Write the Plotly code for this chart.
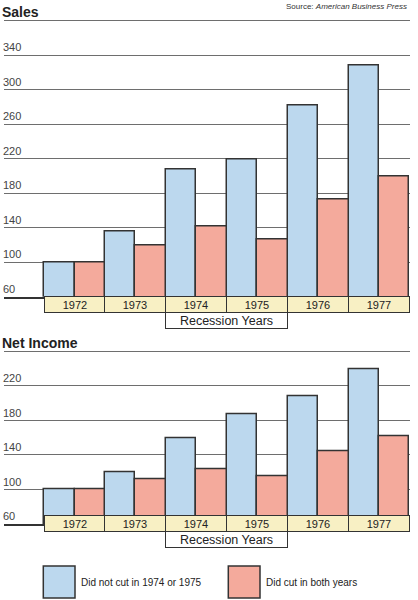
import plotly.graph_objects as go

years = [1972, 1973, 1974, 1975, 1976, 1977]
sales_not_cut = [100, 136, 208, 219, 282, 328]
sales_cut = [100, 119, 141, 127, 173, 199]
income_not_cut = [100, 120, 160, 187, 208, 239]
income_cut = [100, 112, 123, 115, 145, 162]
sales_ticks = [60, 100, 140, 180, 220, 260, 300, 340, 380]
income_ticks = [60, 100, 140, 180, 220, 260]

blue = '#bcd8ee'
red = '#f4aa9c'
yellow = '#f8f0c4'
edge = '#333333'
font = 'Liberation Sans, Arial, sans-serif'
px_per_unit = 0.8625

fig = go.Figure()

panels = [('x', 'y', sales_not_cut, sales_cut), ('x2', 'y2', income_not_cut, income_cut)]
for xa, ya, a, b in panels:
    fig.add_trace(go.Bar(x=years, y=a, xaxis=xa, yaxis=ya, offsetgroup='a',
                         marker=dict(color=blue, line=dict(color=edge, width=1.5)),
                         name='Did not cut in 1974 or 1975', showlegend=False))
    fig.add_trace(go.Bar(x=years, y=b, xaxis=xa, yaxis=ya, offsetgroup='b',
                         marker=dict(color=red, line=dict(color=edge, width=1.5)),
                         name='Did cut in both years', showlegend=False))

xrange = [1971.5 - 0.66, 1977.51]
xax = dict(range=xrange, domain=[4 / 418, 410 / 418], showgrid=False, zeroline=False,
           showticklabels=False, ticks='', showline=True, linecolor=edge, linewidth=1.5)

pad = 5  # extra units above the top gridline so it is drawn


def yax(ticks, base_px):
    top_px = base_px - (ticks[-1] + pad - ticks[0]) * px_per_unit
    return dict(range=[ticks[0], ticks[-1] + pad], domain=[1 - base_px / 600, 1 - top_px / 600],
                tickvals=ticks, ticktext=[str(t) for t in ticks[:-1]] + [''],
                ticklabelposition='inside top', ticklabelstandoff=-4,
                showgrid=True, gridcolor='#6e6e6e',
                gridwidth=1, zeroline=False, showline=False, ticks='',
                tickfont=dict(size=11, color='#444', family=font))


fig.update_layout(
    width=418, height=600, margin=dict(l=0, r=0, t=0, b=0),
    plot_bgcolor='white', paper_bgcolor='white',
    bargap=0, bargroupgap=0, barmode='group',
    xaxis=dict(xax, anchor='y'),
    yaxis=yax(sales_ticks, 296.7),
    xaxis2=dict(xax, anchor='y2'),
    yaxis2=yax(income_ticks, 524),
)

# year labels and recession box under each panel
for xa, ybase in [('x', 296.7), ('x2', 524)]:
    for yr in years:
        fig.add_annotation(x=yr, xref=xa, y=1 - (ybase + 8) / 600, yref='paper',
                           text=str(yr), showarrow=False, width=58, height=13,
                           bgcolor=yellow, bordercolor=edge, borderwidth=1,
                           font=dict(size=11, color='#222', family=font))
    fig.add_annotation(x=1974.5, xref=xa, y=1 - (ybase + 23.5) / 600, yref='paper',
                       text='Recession Years', showarrow=False, width=119, height=13,
                       bgcolor='white', bordercolor=edge, borderwidth=1,
                       font=dict(size=12.5, color='#222', family=font))

fig.add_annotation(x=0, y=1 - 12 / 600, xref='paper', yref='paper', text='<b>Sales</b>',
                   showarrow=False, xanchor='left', yanchor='middle',
                   font=dict(size=14, color='#222', family=font))
fig.add_annotation(x=0, y=1 - 342.7 / 600, xref='paper', yref='paper', text='<b>Net Income</b>',
                   showarrow=False, xanchor='left', yanchor='middle',
                   font=dict(size=14, color='#222', family=font))
fig.add_annotation(x=409 / 418, y=1 - 6 / 600, xref='paper', yref='paper',
                   text='Source: <i>American Business Press</i>',
                   showarrow=False, xanchor='right', yanchor='middle',
                   font=dict(size=8, color='#333', family=font))

# legend
for x0, col, label in [(43.3, blue, 'Did not cut in 1974 or 1975'), (228.3, red, 'Did cut in both years')]:
    fig.add_shape(type='rect', xref='paper', yref='paper', x0=x0 / 418, x1=(x0 + 31.7) / 418,
                  y0=1 - 598 / 600, y1=1 - 566 / 600, fillcolor=col, line=dict(color=edge, width=1.5))
    fig.add_annotation(x=(x0 + 36) / 418, y=1 - 582 / 600, xref='paper', yref='paper', text=label,
                       showarrow=False, xanchor='left', yanchor='middle',
                       font=dict(size=10, color='#222', family=font))

fig.write_html('out.html', config={'displayModeBar': False},
               post_script="document.body.style.margin='0';")
